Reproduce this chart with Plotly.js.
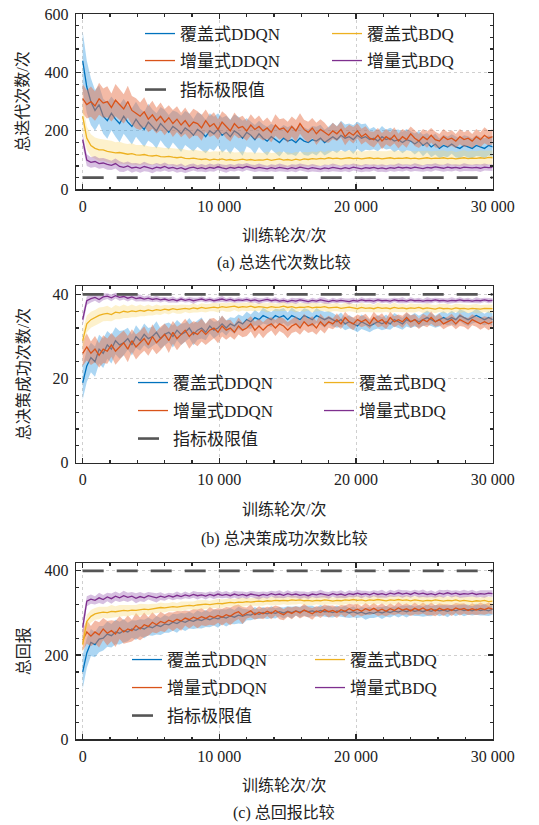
<!DOCTYPE html>
<html><head><meta charset="utf-8">
<script src="https://cdn.plot.ly/plotly-3.0.1.min.js"></script>
<style>html,body{margin:0;padding:0;background:#fff}#chart{width:539px;height:825px}</style>
</head><body><div id="chart"></div>
<script>
// ---------- data ----------
const episodes = [0,300,600,900,1200,1500,1800,2100,2400,2700,
3000,3300,3600,3900,4200,4500,4800,5100,5400,5700,
6000,6300,6600,6900,7200,7500,7800,8100,8400,8700,
9000,9300,9600,9900,10200,10500,10800,11100,11400,11700,
12000,12300,12600,12900,13200,13500,13800,14100,14400,14700,
15000,15300,15600,15900,16200,16500,16800,17100,17400,17700,
18000,18300,18600,18900,19200,19500,19800,20100,20400,20700,
21000,21300,21600,21900,22200,22500,22800,23100,23400,23700,
24000,24300,24600,24900,25200,25500,25800,26100,26400,26700,
27000,27300,27600,27900,28200,28500,28800,29100,29400,29700,
30000];

const seriesNames = ['覆盖式DDQN','增量式DDQN','覆盖式BDQ','增量式BDQ'];
const limitName = '指标极限值';
const xTickVals = [0,10000,20000,30000];
const xTickText = ['0','10 000','20 000','30 000'];
const xTitle = '训练轮次/次';
const yTitles = ['总迭代次数/次','总决策成功次数/次','总回报'];
const captions = ['(a) 总迭代次数比较','(b) 总决策成功次数比较','(c) 总回报比较'];
const yTickValsA = [0,200,400,600];
const yTickValsB = [0,20,40];
const yTickValsC = [0,200,400];
const limitA = 40, limitB = 40, limitC = 400;

// (a) total iterations
const iterCoverDDQN = [440,350,300,270,290,250,235,260,240,225,
250,230,215,240,220,205,230,215,200,225,
210,195,215,205,190,210,200,185,205,195,
180,200,190,205,185,195,180,200,190,175,
195,185,170,190,175,165,180,170,160,175,
165,170,160,175,165,160,170,165,175,160,
170,180,170,185,175,180,170,185,175,180,
170,175,165,180,170,175,165,170,160,170,
165,155,165,150,160,145,155,140,150,145,
155,145,140,150,145,140,150,145,140,150,
145];
const iterCoverDDQNSpread = [100,90,80,70,65,60,62,58,60,64,
60,58,62,60,56,60,63,58,60,57,
61,59,55,60,62,58,60,56,59,61,
57,60,58,55,60,57,59,56,58,60,
48,46,50,45,47,49,44,46,48,45,
47,50,46,44,48,45,47,49,46,44,
45,48,46,50,47,45,49,46,48,45,
36,38,35,37,34,36,38,35,37,36,
34,36,35,37,33,35,36,34,37,35,
33,36,34,35,37,34,36,33,35,34,
35];
const iterIncDDQN = [310,290,300,285,310,295,300,280,305,290,
275,300,270,260,250,265,240,255,235,250,
230,245,225,240,220,235,215,230,225,210,
235,215,225,205,230,215,200,225,210,215,
200,220,205,215,200,210,195,220,205,210,
195,215,200,225,205,195,210,190,205,195,
185,200,190,205,180,195,185,200,180,190,
175,170,185,165,180,170,185,165,180,170,
190,175,165,180,170,185,170,165,180,170,
175,165,180,170,175,165,180,170,185,175,
180];
const iterIncDDQNSpread = [50,48,52,50,55,50,53,48,55,52,
50,54,49,52,47,50,45,48,44,47,
45,43,46,44,42,45,43,46,42,44,
38,36,39,35,37,40,36,38,35,37,
34,37,35,38,33,36,34,37,35,33,
36,34,37,35,33,36,34,38,35,33,
26,28,25,27,29,26,28,25,27,26,
24,27,25,28,26,24,27,25,26,28,
25,27,24,26,28,25,27,24,26,25,
27,24,26,25,27,24,26,25,27,25,
26];
const iterCoverBDQ = [250,175,150,140,135,135,130,128,125,126,
122,120,122,118,117,119,115,114,116,112,
111,113,110,108,110,106,105,107,104,102,
104,100,103,101,104,100,102,99,101,103,
100,102,99,101,100,103,99,101,104,100,
102,99,103,100,104,102,105,103,106,104,
108,105,107,104,106,108,105,107,104,106,
108,105,107,104,106,108,105,107,106,108,
105,107,104,106,108,105,107,106,108,105,
107,104,106,108,105,107,106,108,106,109,
108];
const iterCoverBDQSpread = [50,40,38,37,38,36,37,38,36,37,
36,35,36,34,35,33,32,31,30,31,
30,29,30,31,29,30,28,29,30,28,
29,28,27,28,29,27,28,27,26,27,
26,25,26,25,24,26,25,24,25,26,
25,24,25,26,24,25,24,25,26,24,
25,24,25,26,24,25,24,26,25,24,
25,26,24,25,24,25,26,24,25,24,
25,24,26,25,24,25,24,26,25,24,
25,24,25,26,24,25,24,25,26,24,
25];
const iterIncBDQ = [170,100,92,95,88,90,85,82,88,78,
75,80,73,76,72,78,74,70,76,73,
78,72,75,70,74,68,73,76,71,74,
70,75,72,77,73,70,75,72,76,73,
78,74,71,75,72,70,74,71,75,72,
70,74,71,76,73,70,74,72,69,73,
71,75,72,70,74,71,76,73,70,74,
72,75,71,73,70,74,72,76,73,75,
72,76,74,71,75,73,77,74,72,76,
73,75,72,76,74,73,75,72,76,74,
75];
const iterIncBDQSpread = [22,20,18,19,18,17,18,16,17,18,
16,15,16,14,15,16,14,15,14,13,
14,13,12,13,14,12,13,12,11,13,
12,13,12,11,12,13,12,11,12,13,
12,11,12,13,12,11,12,12,13,12,
11,12,13,12,11,12,13,12,11,12,
12,13,12,11,12,13,12,11,12,13,
12,11,12,13,12,11,12,13,12,11,
12,13,12,11,12,13,12,11,12,13,
12,11,12,13,12,11,12,13,12,11,
12];

// (b) total decision successes
const succCoverDDQN = [19,23,25,24,27,26,28,27,29,28,
28.5,29.5,28,30,29,30.5,29.5,30,31,29.5,
30.5,31,30,31.5,30.5,31,32,30.5,31.5,32,
31,32.5,31.5,32,33,32,33,32.5,33.5,33,
34,33.5,34.5,34,35,34.5,34,35,34.5,35,
34,35,34.5,34,35,34.5,34,35,34.5,34,
34.5,34,33.5,34,33,33.5,33,32.5,33.5,33,
32.5,33,33.5,33,33.5,33,34,33.5,33,34,
33.5,34,33.5,34,34.5,34,33.5,34,34.5,34,
34.5,34,35,34.5,34,34.5,35,34.5,34,34.5,
34];
const succCoverDDQNSpread = [4,3.8,3.5,3.6,3.4,3.5,3.3,3.4,3.2,3.3,
3,2.6,2.5,2.7,2.4,2.6,2.5,2.3,2.6,2.4,
2.5,2.3,2.6,2.4,2.5,2.2,2.4,2.6,2.3,2.5,
1.9,1.8,2,1.7,1.9,1.8,1.6,1.9,1.7,1.8,
1.9,1.7,1.8,1.6,1.9,1.7,1.8,1.6,1.9,1.8,
1.7,1.9,1.6,1.8,1.7,1.9,1.6,1.8,1.7,1.9,
1.5,1.6,1.4,1.7,1.5,1.6,1.4,1.5,1.7,1.6,
1.5,1.4,1.6,1.5,1.7,1.4,1.6,1.5,1.4,1.6,
1.5,1.6,1.4,1.5,1.7,1.5,1.4,1.6,1.5,1.4,
1.6,1.5,1.4,1.6,1.5,1.4,1.6,1.5,1.4,1.5,
1.5];
const succIncDDQN = [26,27.5,26,27,25.5,27,26.5,28,26.5,27.5,
28.5,27,29,27.5,28.5,29.5,28,30,28.5,29.5,
30.5,29,31,29.5,30.5,31.5,30,31,30.5,31.5,
30.5,31.5,32,31,32.5,31.5,32,31,32.5,31.5,
32,33,31.5,32.5,31.5,32.5,33,32,33,32.5,
31.5,32.5,33,32,33.5,32.5,33,32,33.5,32.5,
33.5,33,34,33,34.5,33.5,33,34,33.5,34,
33,34.5,33.5,34,33,34.5,33.5,34,33.5,34.5,
33.5,34,33,34,33.5,34.5,33.5,34,33,33.5,
34,33,34,33.5,33,34,33.5,33,33.5,33,
33.5];
const succIncDDQNSpread = [3,3.2,2.8,3.1,2.9,3.3,3,2.8,3.2,3,
2.9,3.1,2.7,3,2.8,2.9,2.6,2.9,2.7,2.8,
2.6,2.9,2.7,2.8,2.5,2.7,2.9,2.6,2.8,2.7,
2.5,2.7,2.4,2.6,2.5,2.3,2,1.8,2,1.7,
1.9,1.8,2,1.7,1.9,1.8,1.6,1.9,1.7,1.8,
1.9,1.7,1.8,1.6,1.9,1.7,1.8,1.6,1.9,1.8,
1.4,1.3,1.5,1.2,1.4,1.3,1.5,1.2,1.3,1.4,
1.2,1.4,1.3,1.5,1.2,1.4,1.3,1.2,1.4,1.3,
1.5,1.3,1.2,1.4,1.3,1.5,1.2,1.4,1.3,1.2,
1.4,1.3,1.5,1.2,1.4,1.3,1.2,1.4,1.3,1.5,
1.3];
const succCoverBDQ = [29,33,34,34.5,35,35.3,35.5,35.2,35.8,35.6,
36,35.8,36.1,35.9,36.2,36,36.3,36.1,36.4,36.2,
36.5,36.3,36.6,36.4,36.5,36.7,36.5,36.8,36.6,36.9,
36.7,36.9,37,36.8,37.1,36.9,37,37.2,36.9,37.1,
37,37.2,36.9,37.1,37,36.8,37.1,36.9,37,37.2,
36.9,37.1,36.8,37,36.9,37.1,36.8,37,36.9,37.1,
36.8,36.9,37,36.7,36.9,37,36.8,36.6,36.9,36.7,
36.8,36.6,36.9,36.7,36.8,36.6,36.9,36.7,36.8,36.6,
36.8,36.7,36.9,36.6,36.8,36.7,36.5,36.8,36.6,36.7,
36.5,36.8,36.6,36.7,36.5,36.7,36.6,36.5,36.7,36.6,
36.6];
const succCoverBDQSpread = [2.5,2,1.9,1.8,1.9,1.7,1.8,1.6,1.7,1.5,
1.6,1.4,1.5,1.3,1.4,1.2,1.3,1.1,1.2,1.1,
1,1.1,0.9,1,1.1,0.9,1,1.1,0.9,1,
1,0.9,1,1.1,0.9,1,1.1,0.9,1,0.9,
1,1.1,0.9,1,0.9,1.1,1,0.9,1,1.1,
0.9,1,1.1,0.9,1,0.9,1.1,1,0.9,1,
1.1,0.9,1,0.9,1.1,1,0.9,1,1.1,0.9,
1,0.9,1.1,1,0.9,1,1.1,0.9,1,0.9,
1.1,1,0.9,1,1.1,0.9,1,0.9,1.1,1,
0.9,1,1.1,0.9,1,0.9,1.1,1,0.9,1,
1];
const succIncBDQ = [34,38.5,39,39.3,38.8,39.4,39.6,39.2,39.7,39.3,
39.5,39.1,39.4,39,39.2,38.9,39.1,38.8,39,38.7,
38.9,38.6,38.8,38.5,38.9,38.6,38.8,38.5,38.7,38.9,
38.6,38.8,38.5,38.7,38.9,38.6,38.8,38.5,38.7,38.6,
38.8,38.5,38.7,38.4,38.6,38.8,38.5,38.7,38.4,38.6,
38.3,38.6,38.4,38.7,38.5,38.3,38.6,38.4,38.7,38.5,
38.3,38.6,38.4,38.6,38.5,38.3,38.6,38.4,38.7,38.5,
38.6,38.4,38.7,38.5,38.6,38.4,38.7,38.5,38.6,38.4,
38.7,38.5,38.6,38.4,38.6,38.5,38.7,38.5,38.6,38.4,
38.6,38.5,38.7,38.5,38.6,38.4,38.6,38.5,38.7,38.5,
38.6];
const succIncBDQSpread = [1.5,1,0.9,0.8,0.9,0.8,0.7,0.8,0.7,0.8,
0.7,0.8,0.6,0.7,0.8,0.6,0.7,0.6,0.7,0.6,
0.5,0.6,0.7,0.5,0.6,0.5,0.6,0.7,0.5,0.6,
0.5,0.6,0.5,0.6,0.7,0.5,0.6,0.5,0.6,0.5,
0.6,0.5,0.6,0.7,0.5,0.6,0.5,0.6,0.5,0.6,
0.5,0.6,0.7,0.5,0.6,0.5,0.6,0.5,0.6,0.7,
0.5,0.6,0.5,0.6,0.5,0.7,0.6,0.5,0.6,0.5,
0.6,0.7,0.5,0.6,0.5,0.6,0.5,0.6,0.7,0.5,
0.6,0.5,0.6,0.5,0.7,0.6,0.5,0.6,0.5,0.6,
0.7,0.5,0.6,0.5,0.6,0.5,0.7,0.6,0.5,0.6,
0.5];

// (c) total reward
const rewCoverDDQN = [160,205,230,225,238,240,250,246,255,252,
258,255,262,259,265,262,268,265,271,268,
274,272,278,275,281,278,283,280,285,282,
287,284,289,286,291,288,293,290,295,292,
296,295,300,297,301,298,302,299,303,300,
304,301,305,302,306,303,305,302,306,303,
304,301,305,302,304,300,303,299,302,298,
301,299,303,300,304,301,305,302,306,303,
307,304,306,303,307,304,308,305,307,304,
308,305,309,306,308,305,309,306,308,305,
309];
const rewCoverDDQNSpread = [40,35,32,30,31,29,30,28,29,27,
28,22,21,23,20,22,21,19,22,20,
21,19,20,22,19,21,20,18,21,19,
20,18,19,21,18,20,19,17,20,18,
13,12,14,11,13,12,14,12,11,13,
12,14,11,13,12,14,12,11,13,12,
14,12,13,11,14,12,13,11,12,14,
13,11,12,14,13,12,11,13,12,14,
12,11,13,12,14,12,11,13,12,14,
11,13,12,14,12,11,13,12,14,12,
13];
const rewIncDDQN = [235,255,245,255,248,262,252,258,250,265,
255,262,258,270,262,272,268,278,272,280,
276,283,279,285,281,288,284,290,286,291,
287,293,289,294,290,296,292,299,303,294,
300,305,296,302,298,304,299,306,300,296,
303,299,305,300,307,302,298,305,301,308,
303,306,301,308,304,310,305,309,304,310,
306,311,305,309,304,310,306,312,307,310,
305,311,307,312,306,310,305,311,307,310,
306,312,308,311,306,310,307,311,308,312,
309];
const rewIncDDQNSpread = [25,28,24,27,30,26,29,25,31,27,
28,32,26,30,27,29,22,24,20,23,
21,19,22,20,23,18,21,19,22,20,
18,21,19,17,20,18,21,19,17,20,
13,15,12,14,13,11,14,12,15,13,
12,14,11,13,15,12,14,11,13,12,
14,12,13,11,14,12,15,13,12,14,
11,13,12,14,12,13,11,14,12,13,
12,14,11,13,12,15,13,12,14,11,
13,12,14,12,11,13,12,14,12,13,
12];
const rewCoverBDQ = [225,280,292,298,300,302,301,304,303,305,
306,305,307,306,308,309,308,310,311,313,
312,314,315,314,316,317,318,317,319,320,
321,320,322,323,322,324,325,324,326,325,
327,326,327,328,327,329,328,330,329,330,
329,331,330,331,329,330,328,330,329,331,
330,328,330,329,331,330,332,330,331,329,
331,330,332,331,329,331,330,332,330,331,
329,331,330,328,330,329,331,330,328,330,
329,331,328,330,329,327,329,328,330,327,
328];
const rewCoverBDQSpread = [20,16,15,14,15,13,14,15,13,14,
13,14,12,13,14,12,13,12,11,12,
11,10,11,10,11,10,9,10,11,10,
10,9,10,11,10,9,10,9,10,11,
10,9,10,11,10,9,10,11,10,9,
10,11,10,9,10,11,10,9,10,11,
10,9,10,11,10,9,10,11,10,9,
10,11,10,9,10,11,10,9,10,11,
10,9,10,11,10,9,10,11,10,9,
10,11,10,9,10,11,10,9,10,11,
10];
const rewIncBDQ = [265,328,333,330,336,332,338,334,340,336,
341,337,340,335,339,336,341,338,336,340,
337,341,338,342,339,343,340,344,341,343,
340,344,341,345,342,344,341,345,342,344,
341,345,343,341,344,342,346,343,345,342,
346,343,345,342,344,341,345,343,346,344,
342,346,343,345,342,346,344,347,344,346,
343,347,344,346,343,347,345,348,345,347,
344,348,345,347,344,346,343,347,345,348,
345,347,344,346,345,347,344,346,345,347,
346];
const rewIncBDQSpread = [20,12,11,10,12,11,10,12,11,10,
12,11,10,12,11,10,9,10,11,9,
8,7,8,9,7,8,7,8,9,7,
8,7,8,9,7,8,7,8,9,7,
8,7,8,9,7,8,7,8,9,7,
8,7,8,9,7,8,7,8,9,7,
8,7,8,9,7,8,7,8,9,7,
8,7,8,9,7,8,7,8,9,7,
8,7,8,9,7,8,7,8,9,7,
8,7,8,9,7,8,7,8,9,7,
8];

// ---------- styles ----------
const FONT = 'Liberation Serif, Noto Sans CJK SC, serif';
const lineColors = ['#0072BD','#D95319','#EDB120','#7E2F8E'];
const bandColors = ['rgba(70,165,228,0.45)','rgba(232,118,78,0.5)','rgba(250,214,110,0.35)','rgba(150,90,175,0.38)'];
const W = 539, H = 825;
const plotL = 76, plotR = 492.7;
const yTitleX = 23;
const panels = [
  {top:14, bottom:189.3, yr:[0,600], yt:yTickValsA, ymin:40, limit:limitA,
   means:[iterCoverDDQN,iterIncDDQN,iterCoverBDQ,iterIncBDQ],
   spreads:[iterCoverDDQNSpread,iterIncDDQNSpread,iterCoverBDQSpread,iterIncBDQSpread],
   rows:[34,61,90], textX:180, colGap:187, cap:263},
  {top:286, bottom:462.7, yr:[0,42], yt:yTickValsB, ymin:4, limit:limitB,
   means:[succCoverDDQN,succIncDDQN,succCoverBDQ,succIncBDQ],
   spreads:[succCoverDDQNSpread,succIncDDQNSpread,succCoverBDQSpread,succIncBDQSpread],
   rows:[383,411,439], textX:173, colGap:186, cap:539},
  {top:563.3, bottom:739.3, yr:[0,418], yt:yTickValsC, ymin:40, limit:limitC,
   means:[rewCoverDDQN,rewIncDDQN,rewCoverBDQ,rewIncBDQ],
   spreads:[rewCoverDDQNSpread,rewIncDDQNSpread,rewCoverBDQSpread,rewIncBDQSpread],
   rows:[660,688,716], textX:167, colGap:183, cap:813}
];

const traces = [];
const layout = {
  width: W, height: H, margin:{l:0,r:0,t:0,b:0},
  paper_bgcolor:'#fff', plot_bgcolor:'#fff',
  font:{family:FONT, size:16, color:'#222'},
  showlegend:true, hovermode:false, annotations:[]
};
const axisCommon = {
  showline:true, mirror:'ticks', linecolor:'#2a2a2a', linewidth:1.4,
  ticks:'inside', ticklen:5, tickwidth:1.2, tickcolor:'#2a2a2a',
  showgrid:true, gridcolor:'#cfcfcf', griddash:'dot', gridwidth:1,
  zeroline:false, tickfont:{family:FONT, size:16, color:'#222'}, fixedrange:true
};

panels.forEach((p, k) => {
  const n = k + 1;
  const xa = n === 1 ? 'x' : 'x' + n;
  const ya = n === 1 ? 'y' : 'y' + n;
  const xKey = n === 1 ? 'xaxis' : 'xaxis' + n;
  const yKey = n === 1 ? 'yaxis' : 'yaxis' + n;
  const legBase = k * 3;
  const legName = i => (legBase + i === 0 ? 'legend' : 'legend' + (legBase + i + 1));
  [0,1,2,3].forEach(s => {
    const m = p.means[s], sp = p.spreads[s];
    traces.push({x:episodes, y:m.map((v,i)=>v+sp[i]), xaxis:xa, yaxis:ya, mode:'lines',
      line:{width:0, color:'rgba(0,0,0,0)'}, showlegend:false, hoverinfo:'skip'});
    traces.push({x:episodes, y:m.map((v,i)=>v-sp[i]), xaxis:xa, yaxis:ya, mode:'lines',
      line:{width:0, color:'rgba(0,0,0,0)'}, fill:'tonexty', fillcolor:bandColors[s],
      showlegend:false, hoverinfo:'skip'});
    traces.push({x:episodes, y:m, xaxis:xa, yaxis:ya, mode:'lines', name:seriesNames[s],
      line:{color:lineColors[s], width:1.3}, legend: legName(s % 2 === 0 ? 0 : 1)});
  });
  traces.push({x:[episodes[0], episodes[episodes.length-1]], y:[p.limit, p.limit], xaxis:xa, yaxis:ya,
    mode:'lines', name:limitName, line:{color:'#555', width:2.6, dash:'21px,13px'}, legend:legName(2)});

  layout[xKey] = Object.assign({}, axisCommon, {
    domain:[plotL/W, plotR/W], range:[-490,30000], anchor:ya,
    tickvals:xTickVals, ticktext:xTickText, ticklabelstandoff:2,
    minor:{ticks:'inside', ticklen:2.5, dtick:2000, tickcolor:'#2a2a2a', showgrid:false},
    title:{text:xTitle, font:{family:FONT, size:16, color:'#222'}, standoff:16}
  });
  layout[yKey] = Object.assign({}, axisCommon, {
    domain:[(H-p.bottom)/H, (H-p.top)/H], range:p.yr, anchor:xa,
    tickvals:p.yt, ticklabelstandoff:3,
    minor:{ticks:'inside', ticklen:2.5, dtick:p.ymin, tickcolor:'#2a2a2a', showgrid:false}
  });
  p.rows.forEach((ry, r) => {
    layout[legName(r)] = {
      x:(p.textX-40)/W, y:(H-ry)/H, xanchor:'left', yanchor:'middle',
      orientation:'h', entrywidth:p.colGap-45, entrywidthmode:'pixels', traceorder:'normal',
      bgcolor:'rgba(0,0,0,0)', borderwidth:0,
      font:{family:FONT, size:17, color:'#222'}, itemclick:false, itemdoubleclick:false
    };
  });
  // y-axis title (rotated) and panel caption
  layout.annotations.push({text:yTitles[k], xref:'paper', yref:'paper', textangle:-90,
    x:yTitleX/W, y:(H-(p.top+p.bottom)/2)/H, xanchor:'center', yanchor:'middle',
    showarrow:false, font:{family:FONT, size:16, color:'#222'}});
  layout.annotations.push({text:captions[k], xref:'paper', yref:'paper',
    x:(plotL+plotR)/2/W, y:(H-p.cap)/H, xanchor:'center', yanchor:'middle',
    showarrow:false, font:{family:FONT, size:16, color:'#222'}});
});

Plotly.newPlot('chart', traces, layout, {displayModeBar:false, staticPlot:true});
</script></body></html>
